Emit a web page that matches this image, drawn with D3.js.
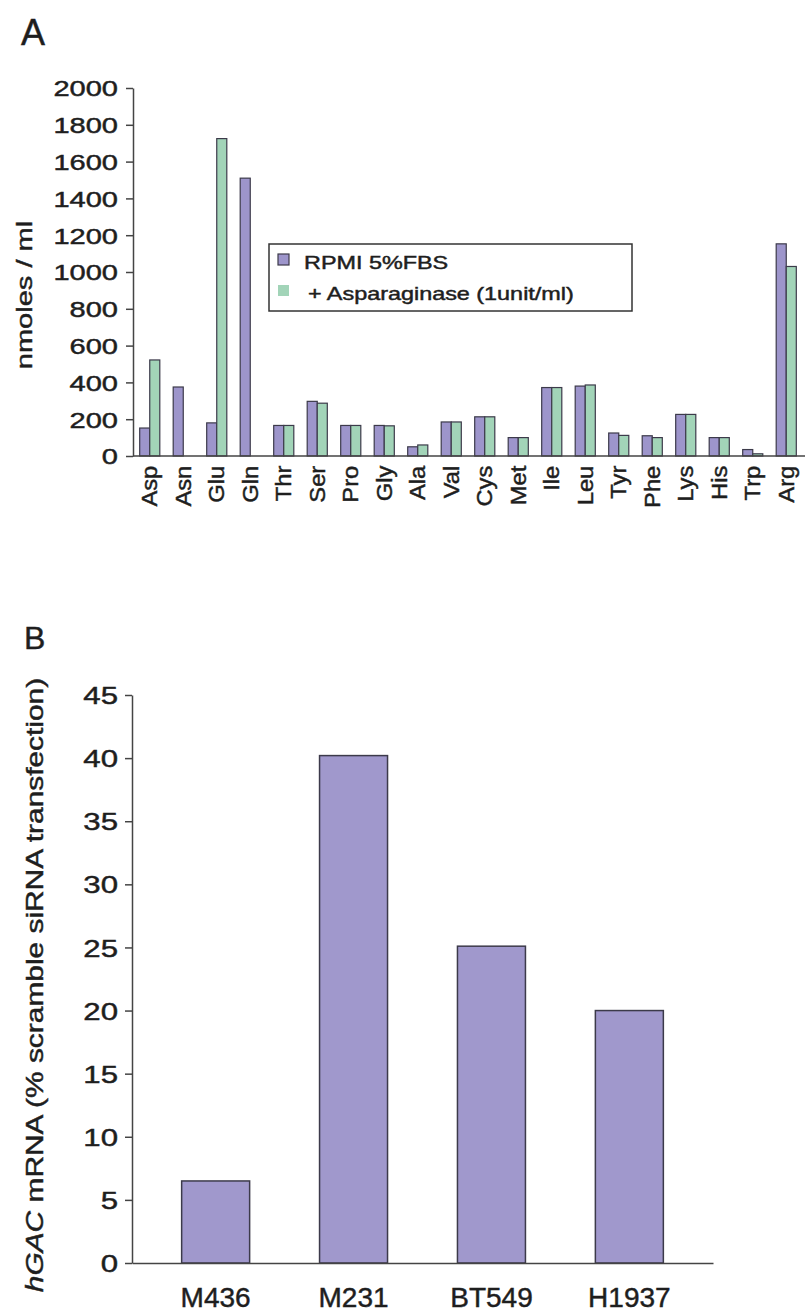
<!DOCTYPE html>
<html>
<head>
<meta charset="utf-8">
<script src="https://cdn.jsdelivr.net/npm/d3@7"></script>
<style>
  body { margin: 0; background: #fff; }
  svg { display: block; font-family: "Liberation Sans", Arial, sans-serif; }
  .axis path, .axis line { stroke: #444; stroke-width: 1.5; }
  text { fill: #1e1e1e; stroke: #1e1e1e; stroke-width: 0.45px; }
</style>
</head>
<body>
<svg id="chart" width="805" height="1313"></svg>
<script>
// panel A: amino acids in medium
const aminoAcids = ['Asp', 'Asn', 'Glu', 'Gln', 'Thr', 'Ser', 'Pro', 'Gly', 'Ala', 'Val',
  'Cys', 'Met', 'Ile', 'Leu', 'Tyr', 'Phe', 'Lys', 'His', 'Trp', 'Arg'];
const rpmiValues = [152, 375, 180, 1510, 166, 297, 166, 166, 50, 185,
  213, 100, 372, 380, 125, 110, 226, 100, 35, 1153];
const asparaginaseValues = [522, 0, 1725, 0, 166, 287, 166, 164, 60, 185,
  213, 100, 372, 386, 112, 100, 226, 100, 12, 1030];
const seriesNames = ['RPMI 5%FBS', '+ Asparaginase (1unit/ml)'];
const yTicksA = d3.range(0, 2001, 200);

// panel B: hGAC knockdown
const cellLines = ['M436', 'M231', 'BT549', 'H1937'];
const gacValues = [6.5, 40.2, 25.1, 20.0];
const yTicksB = d3.range(0, 46, 5);

const blue = '#9d95cb';
const green = '#a2d4b8';
const barStroke = '#3c3a4a';

const svg = d3.select('#chart');

// text is drawn wide in the original, stretch along reading direction
function stretch(sel, sx) {
  sel.each(function() {
    const t = d3.select(this);
    const x = +t.attr('x') || 0;
    t.attr('x', x / sx).attr('transform', `scale(${sx},1)`);
  });
}

// ---------- A ----------
svg.append('text').attr('x', 21).attr('y', 45).style('font-size', '36px').text('A');

const yA = d3.scaleLinear().domain([0, 2000]).range([456, 88]);
const xA = d3.scaleBand().domain(aminoAcids).range([133, 803]).paddingInner(0.4).paddingOuter(0.2);
const xSeries = d3.scaleBand().domain([0, 1]).range([0, xA.bandwidth()]);

const gA = svg.append('g');
const yAxisA = gA.append('g').classed('axis', true)
  .attr('transform', 'translate(133,0)')
  .call(d3.axisLeft(yA).tickValues(yTicksA).tickFormat(d3.format('d'))
    .tickSizeInner(7).tickSizeOuter(0).tickPadding(8));
yAxisA.selectAll('text').style('font-size', '22px').attr('dy', '0.36em');
stretch(yAxisA.selectAll('text'), 1.32);

const rowsA = aminoAcids.map((name, i) => ({ name, values: [rpmiValues[i], asparaginaseValues[i]] }));
gA.append('g')
  .selectAll('g')
  .data(rowsA)
  .enter()
  .append('g')
  .attr('transform', d => `translate(${xA(d.name)},0)`)
  .selectAll('rect')
  .data(d => d.values.map((v, k) => ({ v, k })).filter(d => d.v > 0))
  .enter()
  .append('rect')
  .attr('x', d => xSeries(d.k))
  .attr('width', xSeries.bandwidth())
  .attr('y', d => yA(d.v))
  .attr('height', d => yA(0) - yA(d.v))
  .attr('fill', d => (d.k === 0 ? blue : green))
  .attr('stroke', barStroke)
  .attr('stroke-width', 1.2);

const xAxisA = gA.append('g').classed('axis', true)
  .attr('transform', 'translate(0,456)')
  .call(d3.axisBottom(xA).tickSize(0).tickPadding(0));
xAxisA.select('.domain').attr('d', 'M133,0H805');
xAxisA.selectAll('text')
  .style('font-size', '22px')
  .attr('text-anchor', 'end')
  .attr('x', -9)
  .attr('y', 0)
  .attr('dy', '0.35em')
  .attr('transform', 'rotate(-90) scale(1.08,1)');

svg.append('text')
  .attr('transform', 'translate(32,295) rotate(-90) scale(1.32,1)')
  .attr('text-anchor', 'middle')
  .style('font-size', '22px')
  .text('nmoles / ml');

// legend
const legend = svg.append('g');
legend.append('rect')
  .attr('x', 269).attr('y', 244).attr('width', 363).attr('height', 67)
  .attr('fill', '#fff').attr('stroke', '#333').attr('stroke-width', 1.5);
const legendItems = legend.selectAll('g.item')
  .data(seriesNames)
  .enter()
  .append('g')
  .classed('item', true)
  .attr('transform', (d, i) => `translate(278,${254 + i * 31})`);
legendItems.append('rect')
  .attr('width', 11).attr('height', 11)
  .attr('fill', (d, i) => (i === 0 ? blue : green))
  .attr('stroke', (d, i) => (i === 0 ? barStroke : 'none'))
  .attr('stroke-width', 1.2);
legendItems.append('text')
  .attr('x', (d, i) => (i === 0 ? 26 : 30))
  .attr('y', 15)
  .style('font-size', '18px')
  .text(d => d);
stretch(legendItems.selectAll('text'), 1.3);

// ---------- B ----------
svg.append('text').attr('x', 24).attr('y', 649).style('font-size', '32px').text('B');

const yB = d3.scaleLinear().domain([0, 45]).range([1263, 695]);
const xB = d3.scaleBand().domain(cellLines).range([132, 713]).paddingInner(0.507).paddingOuter(0.36);

const gB = svg.append('g');
gB.append('g')
  .selectAll('rect')
  .data(cellLines)
  .enter()
  .append('rect')
  .attr('x', d => xB(d))
  .attr('width', xB.bandwidth())
  .attr('y', (d, i) => yB(gacValues[i]))
  .attr('height', (d, i) => yB(0) - yB(gacValues[i]))
  .attr('fill', '#a098cc')
  .attr('stroke', barStroke)
  .attr('stroke-width', 1.5);

const yAxisB = gB.append('g').classed('axis', true)
  .attr('transform', 'translate(132,0)')
  .call(d3.axisLeft(yB).tickValues(yTicksB).tickSizeInner(7).tickSizeOuter(0).tickPadding(7));
yAxisB.selectAll('text').style('font-size', '24px').attr('dy', '0.36em');
stretch(yAxisB.selectAll('text'), 1.3);

const xAxisB = gB.append('g').classed('axis', true)
  .attr('transform', 'translate(0,1263)')
  .call(d3.axisBottom(xB).tickSize(0).tickPadding(24));
xAxisB.selectAll('text').style('font-size', '28px');

const yLabelB = svg.append('text')
  .attr('transform', 'translate(43,985) rotate(-90) scale(1.3,1)')
  .attr('text-anchor', 'middle')
  .style('font-size', '23px');
yLabelB.append('tspan').style('font-style', 'italic').text('hGAC');
yLabelB.append('tspan').text(' mRNA (% scramble siRNA transfection)');
</script>
</body>
</html>
